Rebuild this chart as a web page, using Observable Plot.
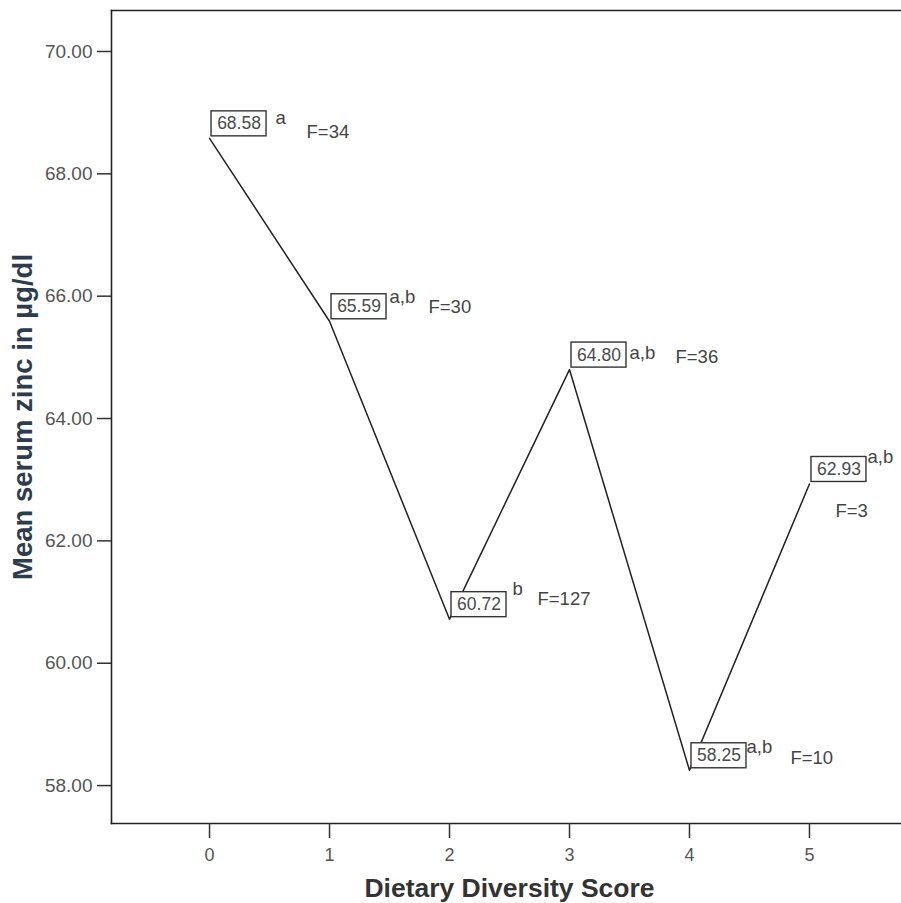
<!DOCTYPE html>
<html>
<head>
<meta charset="utf-8">
<script src="https://cdn.jsdelivr.net/npm/d3@7"></script>
<script src="https://cdn.jsdelivr.net/npm/@observablehq/plot@0.6"></script>
<style>
  html, body { margin: 0; padding: 0; background: #fff; overflow: hidden; }
  svg { font-family: "Liberation Sans", Arial, sans-serif; }
</style>
</head>
<body>
<div id="chart"></div>
<script>
// ---- data ----
const scores = [0, 1, 2, 3, 4, 5];
const meanZinc = [68.58, 65.59, 60.72, 64.80, 58.25, 62.93];
const groupLetters = ["a", "a,b", "b", "a,b", "a,b", "a,b"];
const fValues = [34, 30, 127, 36, 10, 3];
const yTicks = [58, 60, 62, 64, 66, 68, 70];
const xTicks = [0, 1, 2, 3, 4, 5];
const xTitle = "Dietary Diversity Score";
const yTitle = "Mean serum zinc in µg/dl";

// ---- layout (pixel offsets of annotations relative to each point: [dx, baseline dy]) ----
const letterOffsets = [[66, -14], [60, -18], [63, -24], [60, -11], [57, -17], [58, -21]];
const fOffsets = [[97, 0], [99, -8], [88, -14], [106, -7], [101, -6], [26, 33]];

const rows = scores.map((s, i) => ({
  score: s,
  mean: meanZinc[i],
  label: meanZinc[i].toFixed(2),
  letters: groupLetters[i],
  f: "F=" + fValues[i],
  i
}));

const annFs = 18.5;
const boxFs = 17.5;
const markText = (key, offs) => rows.map(r =>
  Plot.text([r], {
    x: "score", y: "mean", text: key,
    textAnchor: "start", lineAnchor: "middle",
    dx: offs[r.i][0], dy: offs[r.i][1] - 0.32 * annFs,
    fontSize: annFs, fill: "#444"
  })
);

const chart = Plot.plot({
  width: 901,
  height: 903,
  marginLeft: 111,
  marginRight: 0,
  marginTop: 10,
  marginBottom: 80,
  style: { background: "#fff", fontFamily: "'Liberation Sans', Arial, sans-serif" },
  x: { domain: [-0.817, 5.767] },
  y: { domain: [57.38, 70.67] },
  marks: [
    Plot.frame({ anchor: "left", stroke: "#222", strokeWidth: 1.6 }),
    Plot.frame({ anchor: "top", stroke: "#222", strokeWidth: 1.6 }),
    Plot.frame({ anchor: "bottom", stroke: "#222", strokeWidth: 1.6 }),
    Plot.axisY({
      ticks: yTicks, tickFormat: d => d.toFixed(2), label: null,
      tickSize: 14, tickPadding: 5, fontSize: 19,
      stroke: "#333", fill: "#555", strokeWidth: 1.5
    }),
    Plot.axisX({
      ticks: xTicks, tickFormat: d => String(d), label: null,
      tickSize: 15, tickPadding: 10, fontSize: 18,
      stroke: "#333", fill: "#555", strokeWidth: 1.5
    }),
    Plot.line(rows, { x: "score", y: "mean", stroke: "#222", strokeWidth: 1.5 }),
    Plot.rect(rows, {
      x1: "score", x2: "score", y1: "mean", y2: "mean",
      insetLeft: 2, insetRight: -57, insetTop: -27, insetBottom: 2,
      fill: "#fff", stroke: "#333", strokeWidth: 1.4
    }),
    Plot.text(rows, {
      x: "score", y: "mean", text: "label",
      textAnchor: "middle", lineAnchor: "middle",
      dx: 29.5, dy: -14.5, fontSize: boxFs, fill: "#4a4a4a"
    }),
    ...markText("letters", letterOffsets),
    ...markText("f", fOffsets),
    Plot.text([xTitle], {
      frameAnchor: "bottom", text: d => d, dy: 65, dx: 3,
      textAnchor: "middle", lineAnchor: "middle",
      fontSize: 26.5, fontWeight: "bold", fill: "#333"
    }),
    Plot.text([yTitle], {
      frameAnchor: "left", text: d => d, dx: -88, rotate: -90,
      textAnchor: "middle", lineAnchor: "middle",
      fontSize: 27.5, fontWeight: "bold", fill: "#2c3d4e"
    })
  ]
});
document.getElementById("chart").appendChild(chart);
</script>
</body>
</html>
